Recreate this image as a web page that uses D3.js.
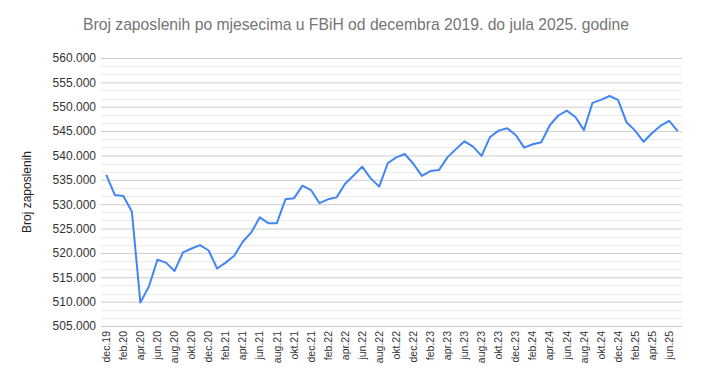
<!DOCTYPE html>
<html>
<head>
<meta charset="utf-8">
<script src="https://cdn.jsdelivr.net/npm/d3@7"></script>
<style>
  html, body { margin: 0; padding: 0; background: #fff; }
  svg { display: block; font-family: "Liberation Sans", Arial, sans-serif; }
</style>
</head>
<body>
<svg id="chart" width="701" height="390"></svg>
<script>
const title = "Broj zaposlenih po mjesecima u FBiH od decembra 2019. do jula 2025. godine";
const yAxisTitle = "Broj zaposlenih";
const months = [
  "dec.19",
  "jan.20","feb.20","mar.20","apr.20","maj.20","jun.20","jul.20","aug.20","sep.20","okt.20","nov.20","dec.20",
  "jan.21","feb.21","mar.21","apr.21","maj.21","jun.21","jul.21","aug.21","sep.21","okt.21","nov.21","dec.21",
  "jan.22","feb.22","mar.22","apr.22","maj.22","jun.22","jul.22","aug.22","sep.22","okt.22","nov.22","dec.22",
  "jan.23","feb.23","mar.23","apr.23","maj.23","jun.23","jul.23","aug.23","sep.23","okt.23","nov.23","dec.23",
  "jan.24","feb.24","mar.24","apr.24","maj.24","jun.24","jul.24","aug.24","sep.24","okt.24","nov.24","dec.24",
  "jan.25","feb.25","mar.25","apr.25","maj.25","jun.25","jul.25"
];
const employed = [
  536000,
  531900,531700,528500,509800,513100,518600,518000,516300,520100,520900,521600,520500,
  516800,518000,519400,522300,524200,527300,526100,526100,531000,531200,533800,532900,
  530200,531000,531400,534200,535900,537700,535300,533600,538400,539600,540300,538300,
  535800,536800,537000,539600,541300,542900,541800,539900,543800,545100,545600,544200,
  541600,542300,542700,546200,548200,549200,547900,545200,550800,551400,552200,551400,
  546800,545100,542800,544600,546100,547100,545000
];
const yTicks = [505000,510000,515000,520000,525000,530000,535000,540000,545000,550000,555000,560000];

const svg = d3.select("#chart");
const m = { left: 102, right: 682, top: 58, bottom: 326 };

const x = d3.scaleBand().domain(months).range([m.left, m.right]).padding(0);
const y = d3.scaleLinear().domain([505000, 560000]).range([m.bottom, m.top]);
const fmt = v => d3.format(",")(v).replace(/,/g, ".");

// minor gridlines
const minor = [];
for (let i = 0; i < yTicks.length - 1; i++) {
  const step = (yTicks[i+1] - yTicks[i]) / 3;
  minor.push(yTicks[i] + step, yTicks[i] + 2 * step);
}
svg.append("g").selectAll("line").data(minor).join("line")
  .attr("x1", m.left - 1).attr("x2", m.right)
  .attr("y1", d => Math.round(y(d)) + 0.5).attr("y2", d => Math.round(y(d)) + 0.5)
  .attr("stroke", "#ececec").attr("stroke-width", 1);

// major gridlines + labels via axis
const yAxis = d3.axisLeft(y).tickValues(yTicks).tickFormat(fmt).tickSize(-(m.right - m.left + 1)).tickPadding(5);
const gy = svg.append("g").attr("transform", `translate(${m.left - 1},0)`).call(yAxis);
gy.select(".domain").remove();
gy.selectAll(".tick line").attr("stroke", "#cccccc").attr("stroke-width", 1);
gy.selectAll(".tick text").attr("fill", "#333").attr("font-size", 12)
  .attr("font-family", "'Liberation Sans', Arial, sans-serif");

// x axis labels
const xAxis = d3.axisBottom(x).tickValues(months.filter((d, i) => i % 2 === 0)).tickSize(0).tickPadding(0);
const gx = svg.append("g").attr("transform", `translate(0,${m.bottom})`).call(xAxis);
gx.select(".domain").remove();
gx.selectAll(".tick text")
  .attr("fill", "#333").attr("font-size", 10.5)
  .attr("font-family", "'Liberation Sans', Arial, sans-serif")
  .attr("transform", "rotate(-90)")
  .attr("text-anchor", "end")
  .attr("x", -5).attr("y", 0).attr("dy", "0.35em");

// line
const line = d3.line().x((d, i) => x(months[i]) + x.bandwidth() / 2).y(d => y(d));
svg.append("path").datum(employed)
  .attr("fill", "none").attr("stroke", "#4285F4").attr("stroke-width", 2)
  .attr("stroke-linejoin", "round").attr("d", line);

// title
svg.append("text").attr("x", 356).attr("y", 30).attr("text-anchor", "middle")
  .attr("font-size", 15.7).attr("fill", "#757575").text(title);

// y axis title
svg.append("text").attr("transform", `translate(31,${(m.top + m.bottom) / 2}) rotate(-90)`)
  .attr("text-anchor", "middle").attr("font-size", 12).attr("fill", "#222").text(yAxisTitle);
</script>
</body>
</html>
